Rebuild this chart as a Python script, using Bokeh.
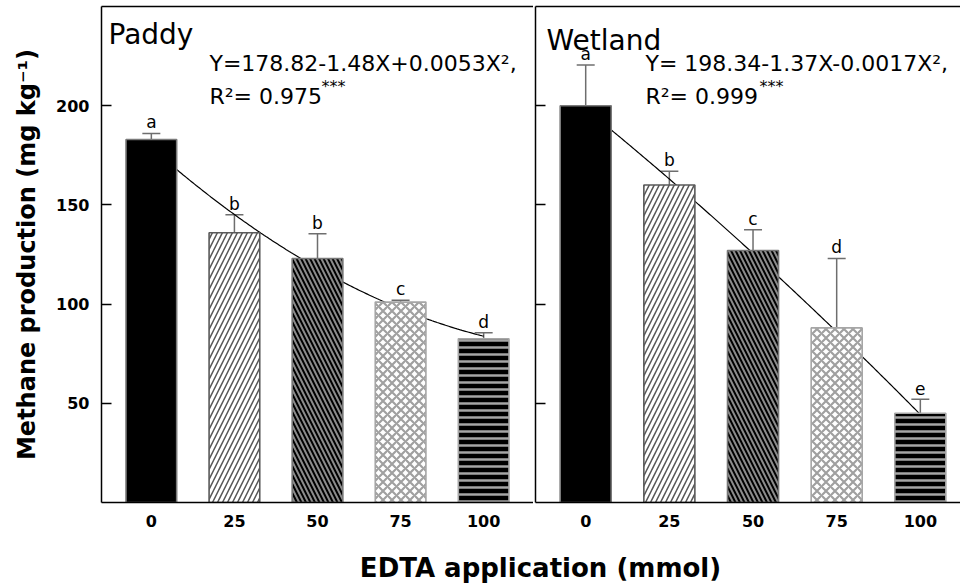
import numpy as np
from bokeh.plotting import figure
from bokeh.models import (ColumnDataSource, Range1d, FixedTicker, LinearAxis,
                          Whisker, TeeHead, Label)
from bokeh.layouts import row, column
from bokeh.embed import file_html
from bokeh.resources import INLINE
from bokeh.core.properties import value

# ---------------- data ----------------
doses = [0, 25, 50, 75, 100]                 # EDTA application (mmol)
paddy_mean = [183, 136, 123, 101, 82.5]
paddy_err = [3, 9, 12.5, 1, 3]
paddy_letters = ["a", "b", "b", "c", "d"]
wetland_mean = [200, 160, 127, 88, 45]
wetland_err = [20.5, 7, 10.5, 35, 7]
wetland_letters = ["a", "b", "c", "d", "e"]
paddy_fit = [178.82, -1.48, 0.0053]          # Y = a + bX + cX^2
wetland_fit = [198.34, -1.37, -0.0017]
y_ticks = [50, 100, 150, 200]

# ---------------- styles ----------------
FONT = "DejaVu Sans"
bar_fill = ["black", "white", "black", "white", "black"]
bar_hatch = [" ", "/", "\\", "x", "-"]
bar_hatch_color = ["black", "#555555", "#8c8c8c", "#a0a0a0", "#a6a6a6"]
bar_hatch_scale = [6, 10, 9, 9, 7]
bar_hatch_weight = [1, 1.5, 2, 2.2, 2.5]
bar_line = ["#7a7a7a", "#5a5a5a", "#777777", "#a6a6a6", "#a6a6a6"]
ERR_COLOR = "#6e6e6e"

H_TOP = 545
FR_TOP, FR_BOT = 6, 502
Y_RANGE = (0, 250)
L1, R1 = 101, 533
L2, R2 = 535, 960
X1 = (-15, 115)
X2 = (-15, 112)


def fy(py):
    return Y_RANGE[0] + (FR_BOT - py) * (Y_RANGE[1] - Y_RANGE[0]) / (FR_BOT - FR_TOP)


def fx(px, L, R, X):
    return X[0] + (px - L) * (X[1] - X[0]) / (R - L)


def make_panel(width, xr, mean, err, letters, fit, first):
    p = figure(width=width, height=H_TOP, x_range=Range1d(*xr), y_range=Range1d(*Y_RANGE),
               output_backend="svg", toolbar_location=None,
               min_border_left=(L1 if first else 2), min_border_right=0,
               min_border_top=FR_TOP, min_border_bottom=H_TOP - FR_BOT,
               outline_line_color=None, background_fill_color="white",
               border_fill_color="white")
    p.grid.visible = False

    # fitted curve from the stated regression equation
    X = np.linspace(doses[0], doses[-1], 201)
    Y = fit[0] + fit[1] * X + fit[2] * X ** 2
    p.line(X, Y, line_color="black", line_width=1.2)

    upper = [m + e for m, e in zip(mean, err)]
    src = ColumnDataSource(dict(x=doses, top=mean, upper=upper, letter=letters,
                                fill=bar_fill, hatch=bar_hatch, hcol=bar_hatch_color,
                                hscale=bar_hatch_scale, hw=bar_hatch_weight, lc=bar_line))
    p.vbar(x="x", top="top", bottom=0, width=15.25, source=src,
           fill_color="fill", line_color="lc", line_width=1.6,
           hatch_pattern="hatch", hatch_color="hcol", hatch_scale="hscale",
           hatch_weight="hw")
    w = Whisker(source=src, base="x", upper="upper", lower="top", dimension="height",
                line_color=ERR_COLOR, line_width=1.5,
                upper_head=TeeHead(size=18, line_color=ERR_COLOR, line_width=1.5),
                lower_head=None)
    p.add_layout(w)
    p.text(x="x", y="upper", text="letter", source=src, text_align="center",
           text_baseline="alphabetic", y_offset=-11, text_font=value(FONT),
           text_font_size="17px", text_color="black")

    # axes
    xa = p.xaxis[0]
    xa.ticker = FixedTicker(ticks=doses)
    xa.major_tick_out = 0
    xa.major_tick_in = 0
    xa.minor_tick_out = 0
    xa.minor_tick_in = 0
    xa.axis_line_width = 1.5
    xa.axis_line_color = "black"
    xa.major_label_text_font = FONT
    xa.major_label_text_font_style = "bold"
    xa.major_label_text_font_size = "16px"
    xa.major_label_text_color = "black"
    xa.major_label_standoff = 12

    ya = p.yaxis[0]
    ya.ticker = FixedTicker(ticks=y_ticks)
    ya.major_tick_in = 10
    ya.major_tick_out = 0
    ya.minor_tick_in = 0
    ya.minor_tick_out = 0
    ya.axis_line_width = 1.5
    ya.axis_line_color = "black"
    ya.major_tick_line_width = 1.5
    ya.major_tick_line_color = "black"
    if first:
        ya.major_label_text_font = FONT
        ya.major_label_text_font_style = "bold"
        ya.major_label_text_font_size = "16px"
        ya.major_label_text_color = "black"
        ya.major_label_standoff = 12
        ya.axis_label = "Methane production (mg kg\u207b\u00b9)"
        ya.axis_label_text_font = FONT
        ya.axis_label_text_font_style = "bold"
        ya.axis_label_text_font_size = "24px"
        ya.axis_label_text_color = "black"
        ya.axis_label_standoff = 12
    else:
        ya.major_label_text_font_size = "0px"
        ya.major_label_text_color = None
        ya.major_label_standoff = 0

    top_axis = LinearAxis(ticker=FixedTicker(ticks=[]), major_label_text_font_size="0px",
                          major_label_text_color=None,
                          major_label_standoff=0, major_tick_out=0, major_tick_in=0,
                          minor_tick_out=0, minor_tick_in=0, axis_line_width=1.5,
                          axis_line_color="black")
    p.add_layout(top_axis, "above")
    return p


p1 = make_panel(R1, X1, paddy_mean, paddy_err, paddy_letters, paddy_fit, True)
p2 = make_panel(960 - R1, X2, wetland_mean, wetland_err, wetland_letters, wetland_fit, False)


def add_texts(p, L, R, X, name, name_px, name_base, eq, eq_px, r2, star_px):
    f = lambda px: fx(px, L, R, X)
    p.add_layout(Label(x=f(name_px), y=fy(name_base), text=name, text_font=FONT,
                       text_font_size="28px", text_baseline="alphabetic", text_color="black"))
    p.add_layout(Label(x=f(eq_px), y=fy(63), text=eq, text_font=FONT,
                       text_font_size="22px", text_baseline="alphabetic", text_color="black"))
    p.add_layout(Label(x=f(eq_px), y=fy(96), text=r2, text_font=FONT,
                       text_font_size="22px", text_baseline="alphabetic", text_color="black"))
    p.add_layout(Label(x=f(star_px), y=fy(86), text="***", text_font=FONT,
                       text_font_size="16px", text_baseline="alphabetic", text_color="black"))


add_texts(p1, L1, R1, X1, "Paddy", 108, 34, "Y=178.82-1.48X+0.0053X\u00b2,", 209,
          "R\u00b2= 0.975", 321)
add_texts(p2, L2, R2, X2, "Wetland", 546, 40, "Y= 198.34-1.37X-0.0017X\u00b2,", 645,
          "R\u00b2= 0.999", 759)

p3 = figure(width=960, height=587 - H_TOP, x_range=Range1d(0, 960), y_range=Range1d(0, 587 - H_TOP),
            output_backend="svg", toolbar_location=None, min_border=0,
            x_axis_location=None, y_axis_location=None, outline_line_color=None)
p3.grid.visible = False
p3.add_layout(Label(x=540, y=(587 - H_TOP) - 22, text="EDTA application (mmol)",
                    text_font=FONT, text_font_style="bold", text_font_size="26px",
                    text_align="center", text_baseline="middle", text_color="black"))

layout = column(row(p1, p2), p3)
open("out.html", "w").write(file_html(layout, INLINE))
